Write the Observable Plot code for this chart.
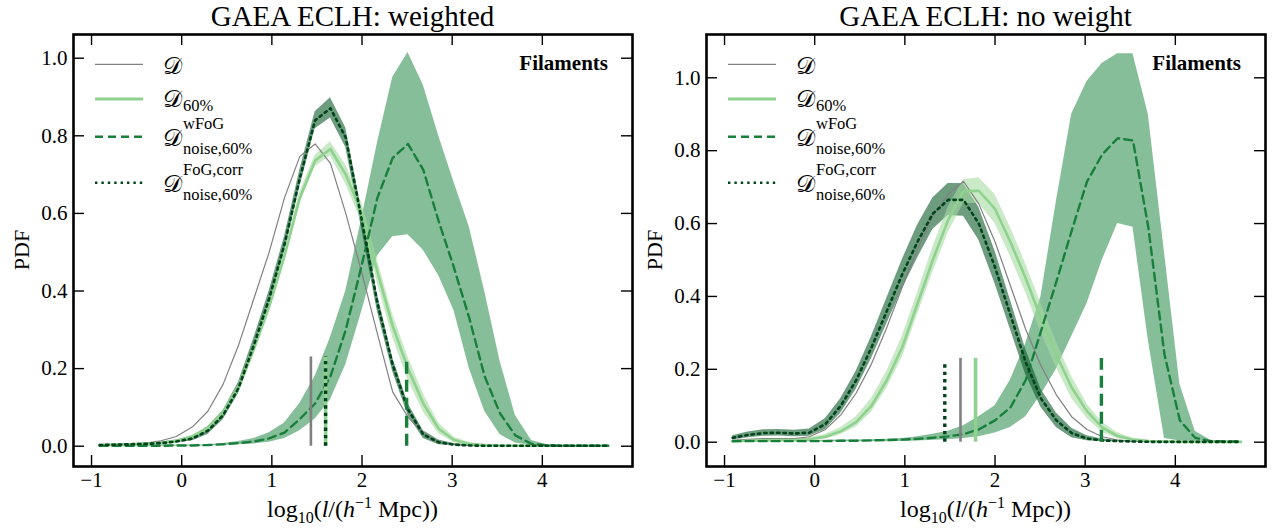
<!DOCTYPE html>
<html>
<head>
<meta charset="utf-8">
<script src="https://cdn.jsdelivr.net/npm/d3@7"></script>
<script src="https://cdn.jsdelivr.net/npm/@observablehq/plot@0.6"></script>
<style>
  body { margin: 0; background: #fff; }
  #row { display: flex; width: 1275px; height: 532px; }
  svg { display: block; }
</style>
</head>
<body>
<div id="row"></div>
<script>
// ---------- shared bins (log10 l) ----------
const xGrid = [-0.91,-0.74,-0.57,-0.40,-0.23,-0.06,0.12,0.29,0.46,0.63,0.80,0.97,1.14,1.31,1.48,1.65,1.82,2.00,2.17,2.34,2.51,2.68,2.85,3.02,3.19,3.36,3.53,3.70,3.88,4.05,4.22,4.39,4.56,4.73];
const xTicks = [-1, 0, 1, 2, 3, 4];
const yTicks = [0, 0.2, 0.4, 0.6, 0.8, 1.0];

// ---------- left panel: weighted ----------
const wD      = [0.002,0.003,0.005,0.008,0.014,0.025,0.05,0.09,0.16,0.26,0.38,0.50,0.64,0.747,0.779,0.729,0.60,0.445,0.29,0.14,0.075,0.032,0.012,0.004,0.002,0.001,0.001,0.001,0.001,0.001,0.001,0.001,0.001,0.001];
const wD60    = [0.002,0.003,0.004,0.006,0.008,0.013,0.025,0.045,0.085,0.15,0.25,0.36,0.49,0.64,0.736,0.766,0.70,0.60,0.45,0.31,0.20,0.11,0.045,0.016,0.006,0.003,0.002,0.001,0.001,0.001,0.001,0.001,0.001,0.001];
const wD60Hi  = [0.003,0.004,0.005,0.007,0.010,0.016,0.029,0.051,0.093,0.16,0.265,0.375,0.505,0.655,0.75,0.785,0.725,0.625,0.48,0.34,0.23,0.135,0.06,0.024,0.009,0.004,0.002,0.001,0.001,0.001,0.001,0.001,0.001,0.001];
const wD60Lo  = [0.001,0.002,0.003,0.005,0.006,0.010,0.021,0.039,0.077,0.14,0.235,0.345,0.475,0.625,0.72,0.748,0.675,0.575,0.42,0.28,0.17,0.088,0.032,0.009,0.003,0.001,0,0,0,0,0,0,0,0];
const wWFoG   = [0.001,0.001,0.001,0.001,0.001,0.002,0.002,0.003,0.005,0.008,0.012,0.02,0.035,0.07,0.11,0.18,0.30,0.47,0.64,0.743,0.779,0.712,0.58,0.46,0.33,0.18,0.085,0.028,0.006,0.002,0.001,0.001,0.001,0.001];
const wWFoGHi = [0.002,0.002,0.002,0.002,0.003,0.003,0.003,0.004,0.007,0.012,0.02,0.035,0.06,0.11,0.18,0.28,0.40,0.59,0.78,0.95,1.015,0.93,0.80,0.68,0.565,0.40,0.22,0.08,0.015,0.004,0.002,0.002,0.002,0.002];
const wWFoGLo = [0,0,0,0,0,0,0,0.001,0.002,0.004,0.006,0.01,0.02,0.04,0.07,0.12,0.21,0.35,0.49,0.54,0.545,0.505,0.44,0.35,0.20,0.09,0.03,0.008,0.002,0,0,0,0,0];
const wCorr   = [0.003,0.004,0.005,0.006,0.008,0.012,0.02,0.04,0.08,0.15,0.26,0.38,0.52,0.69,0.84,0.871,0.795,0.58,0.37,0.21,0.095,0.03,0.01,0.004,0.002,0.001,0.001,0.001,0.001,0.001,0.001,0.001,0.001,0.001];
const wCorrHi = [0.005,0.006,0.007,0.008,0.011,0.016,0.026,0.05,0.092,0.165,0.278,0.40,0.54,0.712,0.862,0.898,0.82,0.605,0.392,0.228,0.11,0.04,0.016,0.007,0.003,0.002,0.002,0.002,0.002,0.002,0.002,0.002,0.002,0.002];
const wCorrLo = [0.001,0.002,0.003,0.004,0.005,0.008,0.014,0.03,0.068,0.135,0.242,0.36,0.50,0.668,0.818,0.846,0.77,0.555,0.348,0.192,0.08,0.02,0.004,0.001,0,0,0,0,0,0,0,0,0,0];
const wMedians = [1.433, 1.596, 2.495, 1.596]; // D, D60, wFoG, corr
const wMedTop  = [0.23, 0.23, 0.228, 0.23];

// ---------- right panel: no weight ----------
const nD      = [0.005,0.008,0.01,0.01,0.01,0.015,0.035,0.075,0.135,0.215,0.315,0.425,0.53,0.62,0.68,0.716,0.654,0.55,0.43,0.31,0.21,0.13,0.07,0.035,0.015,0.006,0.003,0.002,0.001,0.001,0.001,0.001,0.001,0.001];
const nD60    = [0.002,0.004,0.005,0.006,0.006,0.008,0.015,0.03,0.055,0.10,0.17,0.26,0.38,0.50,0.61,0.689,0.69,0.64,0.55,0.45,0.34,0.24,0.15,0.085,0.04,0.017,0.007,0.003,0.002,0.001,0.001,0.001,0.001,0.001];
const nD60Hi  = [0.004,0.006,0.008,0.009,0.009,0.012,0.022,0.04,0.07,0.12,0.195,0.29,0.41,0.535,0.645,0.72,0.726,0.68,0.59,0.49,0.38,0.275,0.18,0.105,0.055,0.026,0.011,0.005,0.003,0.002,0.002,0.002,0.002,0.002];
const nD60Lo  = [0.001,0.002,0.003,0.004,0.004,0.005,0.009,0.021,0.042,0.082,0.148,0.232,0.35,0.466,0.575,0.655,0.655,0.60,0.51,0.41,0.30,0.205,0.12,0.065,0.027,0.009,0.003,0.001,0.001,0,0,0,0,0];
const nWFoG   = [0.003,0.003,0.003,0.003,0.003,0.003,0.003,0.004,0.004,0.005,0.006,0.007,0.009,0.012,0.016,0.022,0.035,0.06,0.095,0.17,0.305,0.44,0.58,0.715,0.79,0.834,0.828,0.59,0.24,0.06,0.012,0.003,0.002,0.002];
const nWFoGHi = [0.005,0.005,0.005,0.005,0.005,0.005,0.005,0.006,0.006,0.007,0.008,0.01,0.015,0.022,0.03,0.045,0.07,0.10,0.17,0.27,0.40,0.66,0.90,0.99,1.04,1.066,1.066,0.90,0.52,0.16,0.03,0.005,0.003,0.002];
const nWFoGLo = [0.001,0.001,0.001,0.001,0.001,0.001,0.001,0.001,0.001,0.001,0.001,0.002,0.003,0.005,0.007,0.01,0.015,0.025,0.04,0.07,0.13,0.20,0.29,0.38,0.50,0.60,0.59,0.28,0.01,0.003,0.001,0,0,0];
const nCorr   = [0.012,0.02,0.025,0.026,0.024,0.026,0.05,0.10,0.17,0.26,0.36,0.46,0.55,0.627,0.665,0.665,0.60,0.48,0.35,0.22,0.12,0.06,0.025,0.01,0.005,0.003,0.002,0.001,0.001,0.001,0.001,0.001,0.001,0.001];
const nCorrHi = [0.018,0.028,0.034,0.035,0.033,0.036,0.065,0.12,0.195,0.29,0.395,0.50,0.595,0.67,0.71,0.71,0.645,0.525,0.39,0.255,0.145,0.08,0.038,0.018,0.009,0.005,0.003,0.002,0.002,0.002,0.002,0.002,0.002,0.002];
const nCorrLo = [0.006,0.012,0.016,0.017,0.015,0.016,0.035,0.08,0.145,0.23,0.325,0.42,0.505,0.584,0.622,0.62,0.555,0.435,0.31,0.185,0.095,0.04,0.012,0.004,0.001,0.001,0,0,0,0,0,0,0,0];
const nMedians = [1.617, 1.784, 3.18, 1.443];
const nMedTop  = [0.23, 0.23, 0.23, 0.22];

// ---------- legend / titles ----------
const legendSup = ["", "", "wFoG", "FoG,corr"];
const legendSub = ["", "60%", "noise,60%", "noise,60%"];

// ---------- styles ----------
const C = {
  gray: "#808080", light: "#8fd18f", lightBand: "#a6dba2",
  dashed: "#1a7f3c", band: "#2a8c4e", dotted: "#00441b", darkBand: "#0b5a2a"
};
const FONT = "'Liberation Serif', 'Times New Roman', serif";

function panel(cfg, container) {
  const W = cfg.width, H = 532, mt = 34, mb = 66, ml = cfg.ml, mr = cfg.mr;
  const fw = W - ml - mr, fh = H - mt - mb;
  const rows = xGrid.map((x, i) => ({
    x, d: cfg.D[i], d60: cfg.D60[i], d60hi: cfg.D60Hi[i], d60lo: cfg.D60Lo[i],
    w: cfg.W[i], whi: cfg.WHi[i], wlo: cfg.WLo[i],
    c: cfg.Corr[i], chi: cfg.CorrHi[i], clo: cfg.CorrLo[i]
  }));
  const med = (k) => [{x: cfg.med[k], top: cfg.medTop[k]}];
  const tickStyle = {stroke: "black", strokeWidth: 1.4};
  const svg = Plot.plot({
    width: W, height: H, marginTop: mt, marginBottom: mb, marginLeft: ml, marginRight: mr,
    x: {domain: [-1.2, 5.0]},
    y: {domain: cfg.ydom},
    style: {fontFamily: FONT, fontSize: "21px", color: "black", background: "white", overflow: "visible"},
    marks: [
      Plot.areaY(rows, {x: "x", y1: "wlo", y2: "whi", fill: C.band, fillOpacity: 0.57, clip: true}),
      Plot.areaY(rows, {x: "x", y1: "clo", y2: "chi", fill: C.darkBand, fillOpacity: 0.6, clip: true}),
      Plot.areaY(rows, {x: "x", y1: "d60lo", y2: "d60hi", fill: C.lightBand, fillOpacity: 0.6, clip: true}),
      Plot.lineY(rows, {x: "x", y: "d", stroke: C.gray, strokeWidth: 1.2, clip: true}),
      Plot.lineY(rows, {x: "x", y: "d60", stroke: C.light, strokeWidth: 2.6, clip: true}),
      Plot.lineY(rows, {x: "x", y: "w", stroke: C.dashed, strokeWidth: 2.4, strokeDasharray: "8,5", clip: true}),
      Plot.lineY(rows, {x: "x", y: "c", stroke: C.dotted, strokeWidth: 2.6, strokeDasharray: "2.4,4", clip: true}),
      // median markers
      Plot.ruleX(med(0), {x: "x", y1: 0, y2: "top", stroke: C.gray, strokeWidth: 2.6}),
      Plot.ruleX(med(1), {x: "x", y1: 0, y2: "top", stroke: C.light, strokeWidth: 3.6}),
      Plot.ruleX(med(2), {x: "x", y1: 0, y2: "top", stroke: C.dashed, strokeWidth: 3.4, strokeDasharray: "12,6"}),
      Plot.ruleX(med(3), {x: "x", y1: 0, y2: "top", stroke: C.dotted, strokeWidth: 3.4, strokeDasharray: "3.4,4"}),
      // axes
      Plot.axisX(xTicks, {anchor: "bottom", tickSize: 0, tickPadding: 6, label: null, fontFamily: FONT,
        tickFormat: d => d < 0 ? "\u2212" + Math.abs(d) : String(d)}),
      Plot.axisY(yTicks, {anchor: "left", tickSize: 0, tickPadding: 6, label: null, fontFamily: FONT,
        tickFormat: d => d.toFixed(1)}),
      Plot.tickX(xTicks, {x: d => d, insetTop: fh - 11, ...tickStyle}),
      Plot.tickX(xTicks, {x: d => d, insetBottom: fh - 11, ...tickStyle}),
      Plot.tickY(yTicks, {y: d => d, insetRight: fw - 11, ...tickStyle}),
      Plot.tickY(yTicks, {y: d => d, insetLeft: fw - 11, ...tickStyle}),
      Plot.frame({stroke: "black", strokeWidth: 2.6})
    ]
  });
  container.appendChild(svg);

  const s = d3.select(svg);
  const cx = ml + fw / 2;
  // title
  s.append("text").attr("x", cx).attr("y", 26).attr("text-anchor", "middle")
    .style("font-family", FONT).style("font-size", "29px").text(cfg.title);
  // y label
  s.append("text").attr("transform", `translate(${ml - 44},${mt + fh / 2}) rotate(-90)`)
    .attr("text-anchor", "middle").style("font-family", FONT).style("font-size", "22px").text("PDF");
  // x label
  const t = s.append("text").attr("x", cx).attr("y", 517).attr("text-anchor", "middle")
    .style("font-family", FONT).style("font-size", "24px");
  t.append("tspan").text("log");
  t.append("tspan").attr("dy", 6).style("font-size", "16px").text("10");
  t.append("tspan").attr("dy", -6).text("(");
  t.append("tspan").style("font-style", "italic").text("l");
  t.append("tspan").text("/(");
  t.append("tspan").style("font-style", "italic").text("h");
  t.append("tspan").attr("dy", -9).style("font-size", "16px").text("\u22121");
  t.append("tspan").attr("dy", 9).text(" Mpc))");
  // Filaments
  s.append("text").attr("x", ml + fw - 24).attr("y", 70).attr("text-anchor", "end")
    .style("font-family", FONT).style("font-size", "21px").style("font-weight", "bold").text("Filaments");

  // legend
  const lx = ml + 22, tx = ml + 90;
  const g = s.append("g").attr("text-anchor", "start").style("font-family", FONT);
  const rowsL = [
    {y: 64.3, stroke: C.gray, w: 1.3, dash: null, base: 73.5},
    {y: 99, stroke: C.light, w: 3, dash: null, base: 107},
    {y: 136.7, stroke: C.dashed, w: 2.6, dash: "8,5", base: 146},
    {y: 182.7, stroke: C.dotted, w: 2.6, dash: "2.4,4", base: 192}
  ];
  const Dch = "\uD835\uDC9F";
  // measure the script D
  const probe = g.append("text").attr("x", 0).attr("y", 0).style("font-size", "24px").text(Dch);
  const dw = probe.node().getComputedTextLength();
  probe.remove();
  const sx = tx + Math.max(dw, 18) + 1;
  rowsL.forEach((r, i) => {
    g.append("line").attr("x1", lx).attr("x2", lx + 48).attr("y1", r.y).attr("y2", r.y)
      .attr("stroke", r.stroke).attr("stroke-width", r.w).attr("stroke-dasharray", r.dash);
    const txt = g.append("text").attr("x", tx).attr("y", r.base);
    txt.append("tspan").style("font-size", "24px").text(Dch);
    if (legendSup[i]) {
      txt.append("tspan").attr("x", sx).attr("y", r.base - 17).style("font-size", "16.5px").text(legendSup[i]);
      txt.append("tspan").attr("x", sx).attr("y", r.base + 7.5).style("font-size", "16.5px").text(legendSub[i]);
    } else if (legendSub[i]) {
      txt.append("tspan").attr("x", sx).attr("y", r.base + 3.5).style("font-size", "16.5px").text(legendSub[i]);
    }
  });
  return svg;
}

const row = document.getElementById("row");
panel({
  width: 638, ml: 73, mr: 6, ydom: [-0.0523, 1.0611], title: "GAEA ECLH: weighted",
  D: wD, D60: wD60, D60Hi: wD60Hi, D60Lo: wD60Lo, W: wWFoG, WHi: wWFoGHi, WLo: wWFoGLo,
  Corr: wCorr, CorrHi: wCorrHi, CorrLo: wCorrLo, med: wMedians, medTop: wMedTop
}, row);
panel({
  width: 637, ml: 68, mr: 10, ydom: [-0.0667, 1.1188], title: "GAEA ECLH: no weight",
  D: nD, D60: nD60, D60Hi: nD60Hi, D60Lo: nD60Lo, W: nWFoG, WHi: nWFoGHi, WLo: nWFoGLo,
  Corr: nCorr, CorrHi: nCorrHi, CorrLo: nCorrLo, med: nMedians, medTop: nMedTop
}, row);
</script>
</body>
</html>
